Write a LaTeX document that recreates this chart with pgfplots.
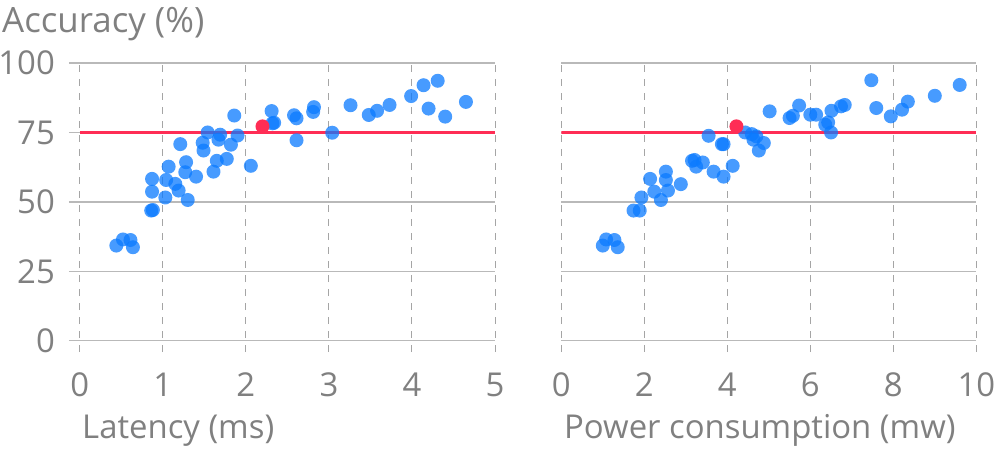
\documentclass[border=0pt]{standalone}
\usepackage{fontspec}
\setmainfont{Open Sans}
\usepackage{pgfplots}
\pgfplotsset{compat=1.18}
\definecolor{txtgray}{RGB}{128,128,128}
\definecolor{gridgray}{RGB}{185,185,185}
\definecolor{dashgray}{RGB}{165,165,165}
\definecolor{iosblue}{RGB}{10,122,255}
\definecolor{iospink}{RGB}{255,45,85}

\pgfplotsset{
  panel/.style={
    scale only axis, height=289bp,
    ymin=-4, ymax=100,
    ytick={0,25,50,75,100},
    axis line style={draw=none},
    major tick length=0pt,
    xmajorgrids, ymajorgrids,
    x grid style={dashgray, line width=1bp, dash pattern=on 7bp off 7bp},
    y grid style={gridgray, line width=1.2bp},
    /pgf/number format/assume math mode=true,
    tick label style={font=\fontsize{33}{36}\selectfont, text=txtgray},
    xticklabel style={anchor=base, inner sep=0pt, yshift=-44bp},
    yticklabel style={anchor=east, inner sep=0pt, xshift=-14bp},
  },
  dots/.style={only marks, color=iosblue, mark=*, mark size=7bp,
    mark options={draw opacity=0, fill=iosblue, fill opacity=0.75}},
  best/.style={only marks, color=iospink, mark=*, mark size=7bp,
    mark options={draw opacity=0, fill=iospink}},
  limit/.style={iospink, line width=2.6bp, no marks},
}

\begin{document}
\begin{tikzpicture}
\begin{axis}[panel, width=426bp, xmin=-0.13, xmax=5, xtick={0,1,2,3,4,5}]
\addplot[dots] coordinates {
  (0.44,34.3) (0.52,36.5) (0.61,36.3) (0.64,33.7)
  (0.86,46.9) (0.88,47.1) (0.87,53.7) (0.87,58.3)
  (1.03,51.6) (1.04,57.9) (1.07,62.7) (1.15,56.5) (1.19,54.1)
  (1.21,70.8) (1.28,64.3) (1.27,60.7) (1.30,50.7) (1.40,59.1)
  (1.48,71.3) (1.49,68.5) (1.54,75.0) (1.61,60.9) (1.65,64.8)
  (1.69,74.2) (1.67,72.4) (1.77,65.5) (1.82,70.6) (1.86,81.1)
  (1.90,73.9) (2.06,63.0)
  (2.31,82.7) (2.32,78.3) (2.34,78.5) (2.58,81.2) (2.61,80.1)
  (2.61,72.2) (2.82,84.1) (2.81,82.4) (3.04,74.9) (3.26,84.8)
  (3.48,81.3) (3.58,82.8) (3.73,84.9) (3.99,88.1) (4.14,92.0)
  (4.31,93.6) (4.20,83.6) (4.40,80.7) (4.65,86.0)
};
\addplot[limit] coordinates {(0,75) (5,75)};
\addplot[best] coordinates {(2.20,77.2)};
\end{axis}
\begin{axis}[panel, at={(492.3bp,0bp)}, width=415bp, xmin=0, xmax=10,
  xtick={0,2,4,6,8,10}, yticklabels={}]
\addplot[dots] coordinates {
  (1.00,34.3) (1.08,36.5) (1.28,36.3) (1.36,33.7)
  (1.74,46.9) (1.89,46.9) (1.93,51.6) (2.14,58.3) (2.24,53.7)
  (2.40,50.7) (2.52,60.9) (2.52,57.9) (2.57,54.1) (2.88,56.4)
  (3.15,64.8) (3.21,65.1) (3.25,62.7) (3.41,64.2) (3.55,73.8)
  (3.67,60.9) (3.87,70.8) (3.91,70.8) (3.91,59.1) (4.13,63.0)
  (4.43,75.0) (4.59,74.4) (4.63,72.4) (4.70,73.6) (4.76,68.5)
  (4.88,71.2) (5.02,82.6) (5.50,80.2) (5.58,81.0) (5.73,84.7)
  (6.00,81.4) (6.14,81.4) (6.36,77.8) (6.43,78.6) (6.50,75.0)
  (6.51,82.8) (6.74,84.4) (6.83,84.9) (7.47,93.8) (7.59,83.8)
  (7.94,80.8) (8.21,83.2) (8.35,86.1) (9.00,88.2) (9.60,92.1)
};
\addplot[limit] coordinates {(0,75) (10,75)};
\addplot[best] coordinates {(4.22,77.2)};
\end{axis}
\begin{scope}[every node/.style={text=txtgray, inner sep=0pt, font=\fontsize{33}{36}\selectfont}]
\node[anchor=base west, font=\fontsize{35}{38}\selectfont] at (-67bp,319bp) {Accuracy (\%)};
\node[anchor=base west] at (13bp,-86bp) {Latency (ms)};
\node[anchor=base west] at (495bp,-86bp) {Power consumption (mw)};
\end{scope}
\pgfresetboundingbox
\useasboundingbox (-69bp,-97bp) rectangle (927bp,352bp);
\end{tikzpicture}
\end{document}
